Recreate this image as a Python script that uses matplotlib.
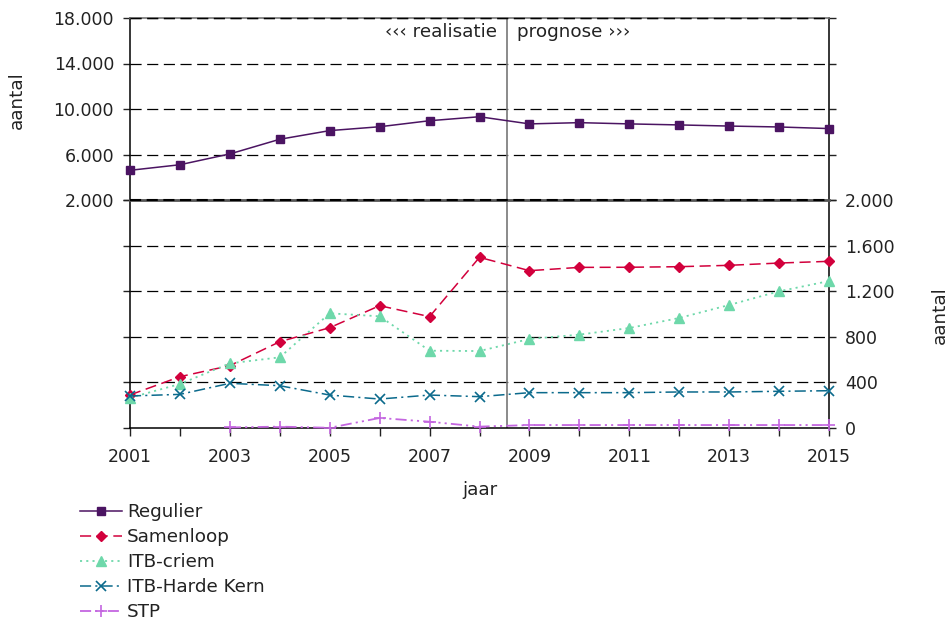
import matplotlib.pyplot as plt

plt.rcParams['font.family'] = ['DejaVu Sans']
plt.rcParams['lines.scale_dashes'] = False

# data
years = list(range(2001, 2016))
regulier = [4610, 5100, 6050, 7340, 8100, 8440, 8970, 9320, 8690, 8800, 8690, 8600, 8500, 8420, 8280]
samenloop = [290, 450, 547, 757, 880, 1073, 977, 1497, 1380, 1409, 1410, 1415, 1427, 1447, 1462]
itb_criem = [265, 386, 567, 620, 1006, 980, 678, 675, 781, 819, 877, 965, 1079, 1199, 1289]
itb_harde_kern = [281, 295, 392, 371, 289, 254, 289, 275, 310, 310, 310, 316, 316, 322, 327]
stp_years = list(range(2003, 2016))
stp = [5, 12, 2, 88, 55, 12, 26, 26, 26, 26, 26, 26, 26]

top_ticks = [2000, 6000, 10000, 14000, 18000]
bottom_ticks = [0, 400, 800, 1200, 1600, 2000]

def fmt(v):
    return f"{v:,}".replace(",", ".")

W, H = 952, 622
fig = plt.figure(figsize=(W / 100, H / 100), dpi=100)
x0, x1 = 130 / W, 829 / W
pw = 829 - 130
ax_top = fig.add_axes([x0, 1 - 200 / H, x1 - x0, (200 - 18) / H])
ax_bot = fig.add_axes([x0, 1 - 428 / H, x1 - x0, (428 - 200) / H])

fs = 12.5    # tick labels
fs2 = 13.2   # other texts
txt = '#222222'
grid_kw = dict(color='black', lw=0.9, linestyle=(0, (8, 4)), zorder=1)

# top panel: Regulier
ax_top.plot(years, regulier, color='#4b1462', lw=1.1, marker='s', ms=6,
            label='Regulier', zorder=3, clip_on=False)
ax_top.set_ylim(2000, 18000)
ax_top.set_xlim(2001, 2015)
ax_top.set_yticks(top_ticks)
ax_top.set_yticklabels([fmt(t) for t in top_ticks])
for t in top_ticks[1:]:
    ax_top.axhline(t, **grid_kw)
ax_top.tick_params(axis='y', which='both', left=True, right=True, direction='out',
                   length=5, width=1, labelsize=fs, pad=6.5, colors=txt)
ax_top.tick_params(axis='x', bottom=False, labelbottom=False)
ax_top.set_ylabel('aantal', fontsize=fs2, color=txt)
ax_top.yaxis.set_label_coords((26 - 130) / pw, 0.55)

# bottom panel
ax_bot.plot(years, samenloop, color='#d2003c', lw=1.1, linestyle=(0, (8, 4)),
            marker='D', ms=5, label='Samenloop', zorder=3, clip_on=False)
ax_bot.plot(years, itb_criem, color='#6ed8aa', lw=1.3, linestyle=(0, (1.5, 3)),
            marker='^', ms=7.5, label='ITB-criem', zorder=3, clip_on=False)
ax_bot.plot(years, itb_harde_kern, color='#0b6a8c', lw=1.1, linestyle=(0, (8, 3, 1.5, 3)),
            marker='x', ms=7, mew=1.2, label='ITB-Harde Kern', zorder=3, clip_on=False)
ax_bot.plot(stp_years, stp, color='#c466e0', lw=1.3, linestyle=(0, (8, 3, 1.5, 3, 1.5, 3)),
            marker='+', ms=8, mew=1.2, label='STP', zorder=3, clip_on=False)
ax_bot.set_ylim(0, 2000)
ax_bot.set_xlim(2001, 2015)
ax_bot.set_yticks(bottom_ticks)
ax_bot.yaxis.tick_right()
ax_bot.set_yticklabels([fmt(t) for t in bottom_ticks])
for t in bottom_ticks[1:-1]:
    ax_bot.axhline(t, **grid_kw)
ax_bot.tick_params(axis='y', which='both', left=True, right=True, direction='out',
                   length=5, width=1, labelsize=fs, pad=6.5, colors=txt)
ax_bot.set_xticks(years)
ax_bot.set_xticklabels([str(y) if (y - 2001) % 2 == 0 else '' for y in years])
ax_bot.tick_params(axis='x', direction='out', length=6, width=1, labelsize=fs,
                   pad=8.5, colors=txt)
ax_bot.set_xlabel('jaar', fontsize=fs2, color=txt, labelpad=10.5)
ax_bot.yaxis.set_label_position('right')
ax_bot.set_ylabel('aantal', fontsize=fs2, color=txt, rotation=90)
ax_bot.yaxis.set_label_coords((931 - 130) / pw, 0.496)

# spines
for ax in (ax_top, ax_bot):
    for s in ('left', 'right'):
        ax.spines[s].set_color('black')
        ax.spines[s].set_linewidth(1.1)
ax_top.spines['top'].set_color('#777777')
ax_top.spines['top'].set_linewidth(1.2)
ax_top.axhline(18000, color='black', lw=1.0, linestyle=(0, (8, 4)), zorder=4, clip_on=False)
ax_top.spines['bottom'].set_visible(False)
ax_bot.spines['top'].set_color('#555555')
ax_bot.spines['top'].set_linewidth(2)
ax_bot.axhline(2000, color='black', lw=1.5, linestyle=(0, (8, 4)), zorder=4, clip_on=False)
ax_bot.spines['bottom'].set_color('black')
ax_bot.spines['bottom'].set_linewidth(1.1)

# realisatie / prognose divider
split = 2008.55
ax_top.axvline(split, color='#777777', lw=1.2, zorder=2)
ax_bot.axvline(split, color='#777777', lw=1.2, zorder=2)
ax_top.text(split - 0.2, 16800, '‹‹‹ realisatie', ha='right', va='center',
            fontsize=fs2, color=txt)
ax_top.text(split + 0.2, 16800, 'prognose ›››', ha='left', va='center',
            fontsize=fs2, color=txt)

# legend
handles = ax_top.get_legend_handles_labels()[0] + ax_bot.get_legend_handles_labels()[0]
labels = [h.get_label() for h in handles]
fig.legend(handles, labels, loc='upper left', bbox_to_anchor=(80 / W, 1 - 503 / H),
           frameon=False, fontsize=fs2, handlelength=2.3, handletextpad=0.27,
           labelspacing=0.385, borderaxespad=0, borderpad=0, labelcolor=txt)

fig.savefig('out.png', dpi=100)
